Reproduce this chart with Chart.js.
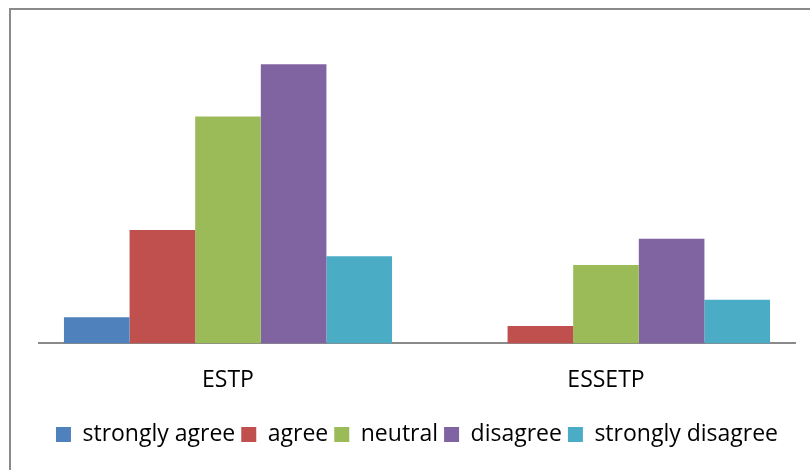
<!DOCTYPE html>
<html>
<head>
<meta charset="utf-8">
<script src="https://cdn.jsdelivr.net/npm/chart.js@4/dist/chart.umd.min.js"></script>
<style>
  html, body { margin: 0; padding: 0; background: #ffffff; }
  #wrap { width: 810px; height: 470px; position: relative; }
</style>
</head>
<body>
<div id="wrap"><canvas id="chart" width="810" height="470"></canvas></div>
<script>
// Survey responses per programme
const categories = ['ESTP', 'ESSETP'];
const seriesNames = ['strongly agree', 'agree', 'neutral', 'disagree', 'strongly disagree'];
const stronglyAgree = [3, 0];
const agree = [13, 2];
const neutral = [26, 9];
const disagree = [32, 12];
const stronglyDisagree = [10, 5];
const seriesColors = ['#4F81BD', '#C0504D', '#9BBB59', '#8064A2', '#4BACC6'];
const yMax = 35;

const seriesValues = [stronglyAgree, agree, neutral, disagree, stronglyDisagree];

// Outer frame drawn along the top and left edges
const framePlugin = {
  id: 'frame',
  afterDraw(chart) {
    const ctx = chart.ctx;
    ctx.save();
    ctx.strokeStyle = '#8a8a8a';
    ctx.lineWidth = 2;
    ctx.beginPath();
    ctx.moveTo(10, chart.height);
    ctx.lineTo(10, 9);
    ctx.lineTo(chart.width, 9);
    ctx.stroke();
    ctx.restore();
  }
};

const fontFamily = '"Open Sans", sans-serif';

new Chart(document.getElementById('chart'), {
  type: 'bar',
  data: {
    labels: categories,
    datasets: seriesNames.map((name, i) => ({
      label: name,
      data: seriesValues[i],
      backgroundColor: seriesColors[i],
      borderWidth: 0,
      categoryPercentage: 0.868,
      barPercentage: 1.0
    }))
  },
  options: {
    responsive: false,
    animation: false,
    layout: { padding: { left: 39, right: 15, top: 38, bottom: 14 } },
    plugins: {
      legend: {
        position: 'bottom',
        labels: {
          boxWidth: 15,
          boxHeight: 15,
          padding: 6,
          color: '#000000',
          font: { family: fontFamily, size: 23 }
        }
      },
      tooltip: { enabled: false }
    },
    scales: {
      x: {
        grid: { display: false, drawTicks: false },
        border: { display: true, color: '#8a8a8a', width: 2 },
        ticks: { color: '#000000', padding: 20, font: { family: fontFamily, size: 23, lineHeight: 1.46 } }
      },
      y: {
        display: false,
        min: 0,
        max: yMax
      }
    }
  },
  plugins: [framePlugin]
});
</script>
</body>
</html>
